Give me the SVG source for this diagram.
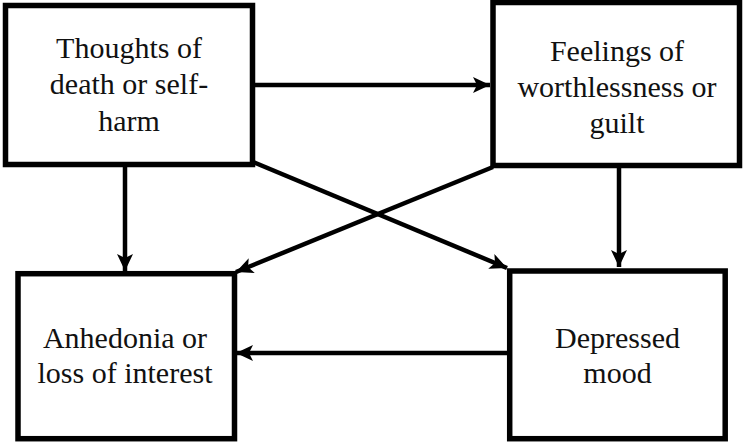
<svg xmlns="http://www.w3.org/2000/svg" width="743" height="444" viewBox="0 0 743 444">
<style>
.box{fill:#fff;stroke:#000;stroke-width:5.5}
.c{stroke:#000;stroke-width:4.5;fill:none;marker-end:url(#ah)}
</style>
<defs>
<marker id="ah" markerUnits="userSpaceOnUse" markerWidth="18" markerHeight="16" refX="17" refY="8" orient="auto">
<path d="M0,0 L17,8 L0,16 L4,8 Z" fill="#000"/>
</marker>
</defs>
<rect width="743" height="444" fill="#fff"/>
<g id="connectors">
<line class="c" x1="253" y1="85" x2="490" y2="85"/>
<line class="c" x1="125" y1="166" x2="125" y2="271"/>
<line class="c" x1="619" y1="167" x2="619" y2="267"/>
<line class="c" x1="253" y1="162" x2="507" y2="268"/>
<line class="c" x1="493" y1="167" x2="236" y2="272"/>
<line class="c" x1="508" y1="353" x2="236" y2="353"/>
</g>
<g font-family="Times New Roman, Liberation Serif, serif" font-size="30" text-anchor="middle" fill="#111">
<g id="n1">
<rect class="box" x="5.5" y="5.5" width="247" height="159"/>
<text x="129" y="58">Thoughts of</text>
<text x="129" y="94">death or self-</text>
<text x="129" y="131">harm</text>
</g>
<g id="n2">
<rect class="box" x="493" y="2.5" width="246.5" height="163"/>
<text x="617" y="61">Feelings of</text>
<text x="617" y="97">worthlessness or</text>
<text x="617" y="133">guilt</text>
</g>
<g id="n3">
<rect class="box" x="18" y="273.7" width="216.5" height="165"/>
<text x="125" y="348">Anhedonia or</text>
<text x="125" y="383">loss of interest</text>
</g>
<g id="n4">
<rect class="box" x="509.7" y="271" width="215.5" height="167.7"/>
<text x="617.5" y="348">Depressed</text>
<text x="617.5" y="383">mood</text>
</g>
</g>
</svg>
